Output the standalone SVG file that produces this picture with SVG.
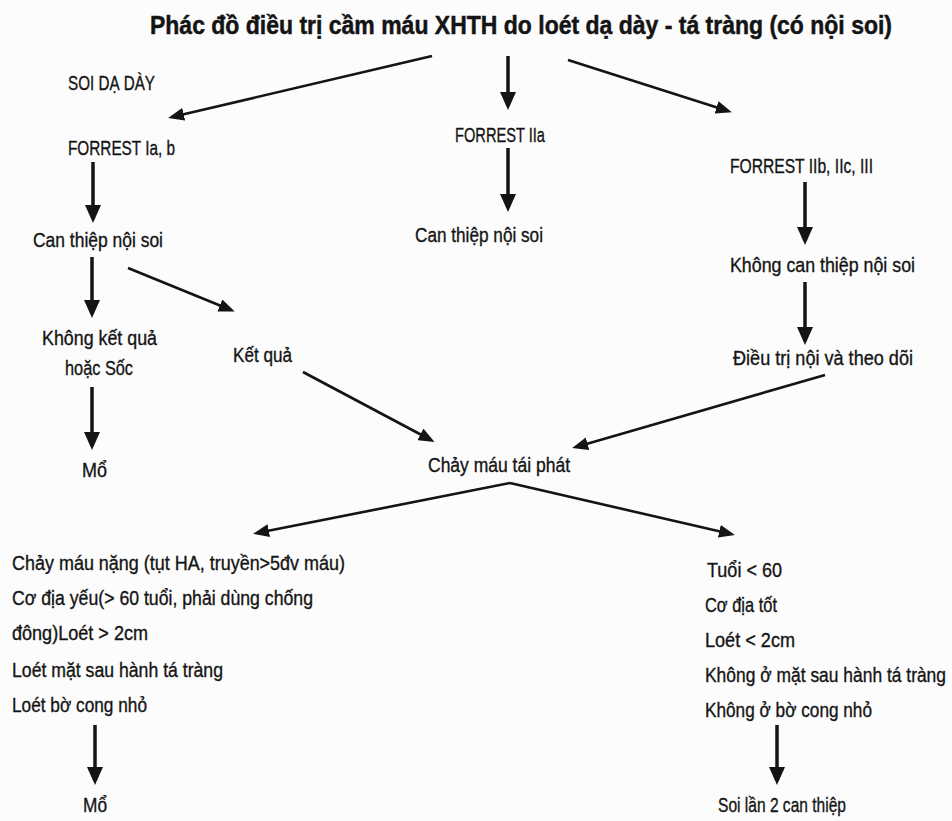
<svg xmlns="http://www.w3.org/2000/svg" width="952" height="821" viewBox="0 0 952 821">
  <style>
    text { font-family: "Liberation Sans", "DejaVu Sans", sans-serif; font-size: 20.5px; fill: #141414; stroke: #141414; stroke-width: 0.35px; }
    .title { font-size: 26px; font-weight: bold; stroke-width: 0.5px; }
    .edge { stroke: #141414; fill: none; stroke-linecap: butt; }
    .v { stroke-width: 3.5; }
    .d { stroke-width: 2.6; }
  </style>
  <defs>
    <marker id="head" viewBox="0 0 18 16" refX="14" refY="8" markerWidth="18" markerHeight="16" markerUnits="userSpaceOnUse" orient="auto">
      <path d="M0,0 L18,8 L0,16 Z" fill="#141414"/>
    </marker>
    <marker id="headS" viewBox="0 0 16 13" refX="12" refY="6.5" markerWidth="16" markerHeight="13" markerUnits="userSpaceOnUse" orient="auto">
      <path d="M0,0 L16,6.5 L0,13 Z" fill="#141414"/>
    </marker>
  </defs>
  <rect width="952" height="821" fill="#fcfcfc"/>

  <g id="title">
    <text class="title" x="150" y="34" textLength="742" lengthAdjust="spacingAndGlyphs">Phác đồ điều trị cầm máu XHTH do loét dạ dày - tá tràng (có nội soi)</text>
  </g>

  <g id="connectors">
    <!-- from title -->
    <path class="edge d" d="M432,56 L172,117" marker-end="url(#headS)"/>
    <path class="edge v" d="M508,56 L508,106" marker-end="url(#head)"/>
    <path class="edge d" d="M568,60 L728,111" marker-end="url(#headS)"/>
    <!-- left column -->
    <path class="edge v" d="M93,162 L93,219" marker-end="url(#head)"/>
    <path class="edge v" d="M92,257 L92,314" marker-end="url(#head)"/>
    <path class="edge d" d="M128,268 L231,310" marker-end="url(#headS)"/>
    <path class="edge v" d="M92,387 L92,446" marker-end="url(#head)"/>
    <path class="edge d" d="M303,372 L431,440" marker-end="url(#headS)"/>
    <!-- centre column -->
    <path class="edge v" d="M508,148 L508,208" marker-end="url(#head)"/>
    <!-- right column -->
    <path class="edge v" d="M805,182 L805,241" marker-end="url(#head)"/>
    <path class="edge v" d="M805,282 L805,341" marker-end="url(#head)"/>
    <path class="edge d" d="M825,375 L576,447" marker-end="url(#headS)"/>
    <!-- recurrence split -->
    <path class="edge d" d="M510,483 L257,533" marker-end="url(#headS)"/>
    <path class="edge d" d="M510,483 L731,534" marker-end="url(#headS)"/>
    <!-- final steps -->
    <path class="edge v" d="M95,725 L95,781" marker-end="url(#head)"/>
    <path class="edge v" d="M777,725 L777,781" marker-end="url(#head)"/>
  </g>

  <g id="soi-da-day">
    <text x="68" y="90" textLength="87" lengthAdjust="spacingAndGlyphs">SOI DẠ DÀY</text>
  </g>
  <g id="forrest-1">
    <text x="68" y="155" textLength="107" lengthAdjust="spacingAndGlyphs">FORREST Ia, b</text>
  </g>
  <g id="can-thiep-1">
    <text x="33" y="247" textLength="130" lengthAdjust="spacingAndGlyphs">Can thiệp nội soi</text>
  </g>
  <g id="khong-ket-qua">
    <text x="42" y="345" textLength="115" lengthAdjust="spacingAndGlyphs">Không kết quả</text>
    <text x="65" y="375" textLength="68" lengthAdjust="spacingAndGlyphs">hoặc Sốc</text>
  </g>
  <g id="ket-qua">
    <text x="233" y="362" textLength="59" lengthAdjust="spacingAndGlyphs">Kết quả</text>
  </g>
  <g id="mo-1">
    <text x="82" y="477" textLength="25" lengthAdjust="spacingAndGlyphs">Mổ</text>
  </g>

  <g id="forrest-2">
    <text x="455" y="142" textLength="90" lengthAdjust="spacingAndGlyphs">FORREST IIa</text>
  </g>
  <g id="can-thiep-2">
    <text x="415" y="242" textLength="128" lengthAdjust="spacingAndGlyphs">Can thiệp nội soi</text>
  </g>

  <g id="forrest-3">
    <text x="730" y="173" textLength="143" lengthAdjust="spacingAndGlyphs">FORREST IIb, IIc, III</text>
  </g>
  <g id="khong-can-thiep">
    <text x="730" y="272" textLength="185" lengthAdjust="spacingAndGlyphs">Không can thiệp nội soi</text>
  </g>
  <g id="dieu-tri-noi">
    <text x="733" y="365" textLength="180" lengthAdjust="spacingAndGlyphs">Điều trị nội và theo dõi</text>
  </g>

  <g id="chay-mau-tai-phat">
    <text x="428" y="472" textLength="142" lengthAdjust="spacingAndGlyphs">Chảy máu tái phát</text>
  </g>

  <g id="nhom-nguy-co-cao">
    <text x="12" y="570" textLength="333" lengthAdjust="spacingAndGlyphs">Chảy máu nặng (tụt HA, truyền&gt;5đv máu)</text>
    <text x="12" y="605" textLength="301" lengthAdjust="spacingAndGlyphs">Cơ địa yếu(&gt; 60 tuổi, phải dùng chống</text>
    <text x="12" y="640" textLength="136" lengthAdjust="spacingAndGlyphs">đông)Loét &gt; 2cm</text>
    <text x="12" y="677" textLength="211" lengthAdjust="spacingAndGlyphs">Loét mặt sau hành tá tràng</text>
    <text x="12" y="712" textLength="135" lengthAdjust="spacingAndGlyphs">Loét bờ cong nhỏ</text>
  </g>
  <g id="mo-2">
    <text x="83" y="812" textLength="24" lengthAdjust="spacingAndGlyphs">Mổ</text>
  </g>

  <g id="nhom-nguy-co-thap">
    <text x="707" y="577" textLength="75" lengthAdjust="spacingAndGlyphs">Tuổi &lt; 60</text>
    <text x="705" y="612" textLength="72" lengthAdjust="spacingAndGlyphs">Cơ địa tốt</text>
    <text x="705" y="647" textLength="90" lengthAdjust="spacingAndGlyphs">Loét &lt; 2cm</text>
    <text x="705" y="682" textLength="241" lengthAdjust="spacingAndGlyphs">Không ở mặt sau hành tá tràng</text>
    <text x="705" y="717" textLength="167" lengthAdjust="spacingAndGlyphs">Không ở bờ cong nhỏ</text>
  </g>
  <g id="soi-lan-2">
    <text x="718" y="812" textLength="128" lengthAdjust="spacingAndGlyphs">Soi lần 2 can thiệp</text>
  </g>
</svg>
